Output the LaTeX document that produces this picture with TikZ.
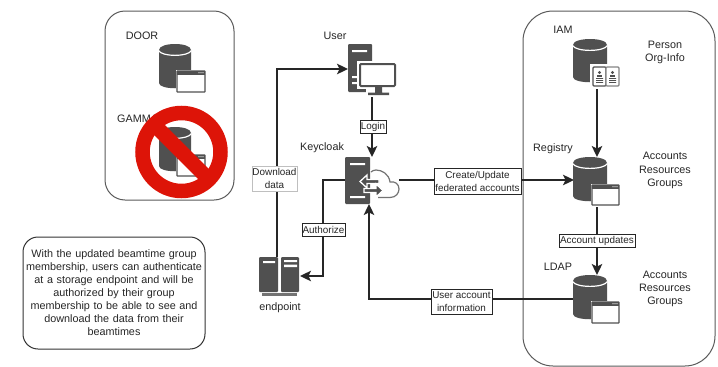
\documentclass[tikz,border=0pt]{standalone}
\usepackage{fontspec}
\setmainfont{Liberation Sans}
\usetikzlibrary{arrows.meta,fit}
\definecolor{icon}{HTML}{505050}
\definecolor{txt}{HTML}{262626}
\definecolor{frame}{HTML}{5A5A5A}
\definecolor{nored}{HTML}{DD1408}
\tikzset{
  x=1pt,y=-1pt,
  txtfont/.style={font=\fontsize{10.8}{13.1}\selectfont,text=txt,inner sep=0pt,align=center},
  caption/.style={txtfont},
  edgetxt/.style={font=\fontsize{9.9}{13}\selectfont,text=txt,inner sep=0pt,align=center},
  anchorbox/.style={inner sep=0pt,outer sep=0pt},
  group/.style={draw=frame,line width=1pt,fill=white},
  link/.style={line width=1.7pt,draw=black!85,-{Stealth[length=11pt,width=10.5pt,inset=2.5pt]}},
  edgelabel/.style={draw=black!85,fill=white,line width=.7pt,inner sep=0pt},
  softlabel/.style={draw=black!25,fill=white,line width=.7pt,inner sep=0pt},
  blockarrow/.style={fill=icon,draw=white,line width=1.3pt,line join=miter},
}
% cylinder: x1 y1 x2 y2
\newcommand{\cylicon}[4]{%
  \fill[icon] (#1,#2+6) .. controls (#1,#2-2) and (#3,#2-2) .. (#3,#2+6) -- (#3,#4-5)
    .. controls (#3,#4+2) and (#1,#4+2) .. (#1,#4-5) -- cycle;
  \draw[white,line width=1.2pt] (#1-.5,#2+6.5) .. controls (#1+3,#2+13) and (#3-3,#2+13) .. (#3+.5,#2+6.5);
}
% window: x1 y1 x2 y2
\newcommand{\winicon}[4]{%
  \fill[white] (#1-1.5,#2-1.5) rectangle (#3+1.5,#4+1.5);
  \draw[icon,line width=1.2pt,fill=white,rounded corners=.5pt] (#1,#2) rectangle (#3,#4);
  \fill[icon] (#1,#2) rectangle (#3,#2+3.6);
  \fill[white] (#3-2,#2+1.8) circle (.6) (#3-4,#2+1.8) circle (.6) (#3-6,#2+1.8) circle (.6);
}
% tower: x1 y1 x2 y2
\newcommand{\towericon}[4]{%
  \fill[icon,rounded corners=1pt] (#1,#2) rectangle (#3,#4);
}
\begin{document}
\begin{tikzpicture}
\useasboundingbox (0,0) rectangle (718,367);
\fill[white] (0,0) rectangle (718,367);

% group frames
\node[group,rounded corners=20pt,fit={(105,11)(234,200)},inner sep=0pt] (legacy) {};
\node[group,rounded corners=30pt,fit={(523,11)(715,366)},inner sep=0pt] (services) {};
\node[group,draw=black!80,rounded corners=15pt,fit={(23,237)(205,349)},inner sep=0pt] (note) {};
\node[txtfont,text width=180pt] (notetext) at (114,292.5) {With the updated beamtime group\\membership, users can authenticate\\at a storage endpoint and will be\\authorized by their group\\membership to be able to see and\\download the data from their\\beamtimes};

% anchor nodes for the icons
\node[anchorbox,fit={(159,44)(205,92)}] (door) {};
\node[anchorbox,fit={(159,127)(205,176)}] (gamma) {};
\node[anchorbox,fit={(348,44)(396,95)}] (user) {};
\node[anchorbox,fit={(345,157)(399,204)}] (keycloak) {};
\node[anchorbox,fit={(259,257)(299,295)}] (endpoint) {};
\node[anchorbox,fit={(573,39)(620,87)}] (iam) {};
\node[anchorbox,fit={(573,157)(619,205)}] (registry) {};
\node[anchorbox,fit={(573,275)(619,323)}] (ldap) {};

% connector free ends on the icon outlines
\coordinate (dlstart) at (277,257);
\coordinate (dlend) at (348,69);
\coordinate (loginstart) at (372,95);
\coordinate (loginend) at (372,157);
\coordinate (authstart) at (345,180);
\coordinate (authend) at (300,276);
\coordinate (createstart) at (399,180);
\coordinate (createend) at (574,180);
\coordinate (uaistart) at (573,299);
\coordinate (uaiend) at (369,204);
\coordinate (iamstart) at (597,87);
\coordinate (iamend) at (597,157);
\coordinate (updstart) at (597,205);
\coordinate (updend) at (597,275);

% connectors
\draw[link] (dlstart) |- (dlend);
\draw[link] (loginstart) -- (loginend);
\draw[link] (authstart) -| (323,276) -- (authend);
\draw[link] (createstart) -- (createend);
\draw[link] (uaistart) -| (uaiend);
\draw[link] (iamstart) -- (iamend);
\draw[link] (updstart) -- (updend);

% DOOR
\node[caption] (doorlabel) at (142,36) {DOOR};
\cylicon{159}{44}{191}{88}
\winicon{177}{71}{205}{92}
% GAMMA
\node[caption,anchor=west] (gammalabel) at (117,119) {GAMMA};
\cylicon{159}{127}{191}{171}
\winicon{177}{155}{205}{176}
% no sign
\draw[nored,line width=14.5pt] (181.5,152) circle (39);
\draw[nored,line width=14.5pt] (154,124.5) -- (209,179.5);

% User
\node[caption] (userlabel) at (335,36) {User};
\towericon{348}{44}{372}{92}
\fill[white] (352,50) rectangle (367,52) (352,76) rectangle (358,78) (352,82) rectangle (358,84);
\fill[white] (357,61) rectangle (398,89);
\fill[white] (366,89) rectangle (391,97);
\draw[icon,line width=2pt,fill=white,rounded corners=1pt] (360,64) rectangle (395,86);
\fill[icon] (375,86) rectangle (382,93) (368,92.5) rectangle (389,95);

% Keycloak
\node[caption] (keycloaklabel) at (322,148) {Keycloak};
\towericon{345}{157}{370}{204}
\fill[white] (350,163) rectangle (365,165.2) (350,196) rectangle (365,198.2);
\fill[white] (371,172) rectangle (382,197);
\draw[white,line width=4pt] (378,197.5) -- (390,197.5) .. controls (396,197.5) and (399,193) .. (399,189)
  .. controls (399,184) and (395,181) .. (390,182) .. controls (389,174) and (382,170) .. (376,170)
  .. controls (374,170) and (372,171) .. (371,172);
\draw[icon!80,line width=1.2pt] (378,197.5) -- (390,197.5) .. controls (396,197.5) and (399,193) .. (399,189)
  .. controls (399,184) and (395,181) .. (390,182) .. controls (389,174) and (382,170) .. (376,170)
  .. controls (374,170) and (372,171) .. (371,172);
\draw[blockarrow] (360,181.5) -- (367,175) -- (367,179.5) -- (379,179.5) -- (379,183.5) -- (367,183.5) -- (367,188) -- cycle;
\draw[blockarrow] (383,190.5) -- (376,184) -- (376,188.5) -- (364,188.5) -- (364,192.5) -- (376,192.5) -- (376,197) -- cycle;

% endpoint
\node[caption] (endpointlabel) at (280,308) {endpoint};
\towericon{259}{257}{278}{292}
\towericon{281}{257}{299}{292}
\fill[white] (263,261) rectangle (275,263) (284,260) rectangle (297,262) (284,264.5) rectangle (297,267);
\fill[icon!80] (262,293) rectangle (297,295.5);

% IAM
\node[caption] (iamlabel) at (563,30) {IAM};
\cylicon{573}{39}{607}{82}
\fill[white] (590,64) rectangle (621,89);
\draw[icon,line width=1.2pt,fill=white,rounded corners=1pt] (593,67) rectangle (606,86);
\draw[icon!70,line width=1.2pt,fill=white,rounded corners=1pt] (606,67) rectangle (619,86);
\foreach \bx in {599.5,612.5}{
  \fill[icon] (\bx,72.5) circle (1.6);
  \fill[icon] (\bx-2.7,77) rectangle (\bx+2.7,74.5);
  \fill[icon] (\bx-3.5,78) rectangle (\bx+3.5,78.9) (\bx-3.5,80) rectangle (\bx+3.5,80.9) (\bx-3.5,82) rectangle (\bx+3.5,82.9);
}
\node[caption] (iaminfo) at (665,52.5) {Person\\Org-Info};

% Registry
\node[caption] (registrylabel) at (553,149) {Registry};
\cylicon{573}{157}{607}{201}
\winicon{592}{185}{619}{205}
\node[caption] (registryinfo) at (665,170.5) {Accounts\\Resources\\Groups};

% LDAP
\node[caption] (ldaplabel) at (558,267) {LDAP};
\cylicon{573}{275}{607}{319}
\winicon{592}{302}{619}{323}
\node[caption] (ldapinfo) at (665,289) {Accounts\\Resources\\Groups};

% edge labels
\node[softlabel,fit={(252,166)(297,191)}] (dlbox) {};
\node[edgetxt] (dllabel) at (274.5,178.5) {Download\\data};
\node[edgelabel,fit={(360,120)(386,133)}] (loginbox) {};
\node[edgetxt] (loginlabel) at (373,126.5) {Login};
\node[edgelabel,fit={(302,223)(345,236)}] (authbox) {};
\node[edgetxt] (authlabel) at (323.5,229.5) {Authorize};
\node[edgelabel,fit={(434,168)(521,194)}] (createbox) {};
\node[edgetxt] (createlabel) at (477.5,181) {Create/Update\\federated accounts};
\node[edgelabel,fit={(559,234)(635,247)}] (updbox) {};
\node[edgetxt] (updlabel) at (597,240.5) {Account updates};
\node[edgelabel,fit={(431,289)(492,314)}] (uaibox) {};
\node[edgetxt] (uailabel) at (461.5,301.5) {User account\\information};
\end{tikzpicture}
\end{document}
